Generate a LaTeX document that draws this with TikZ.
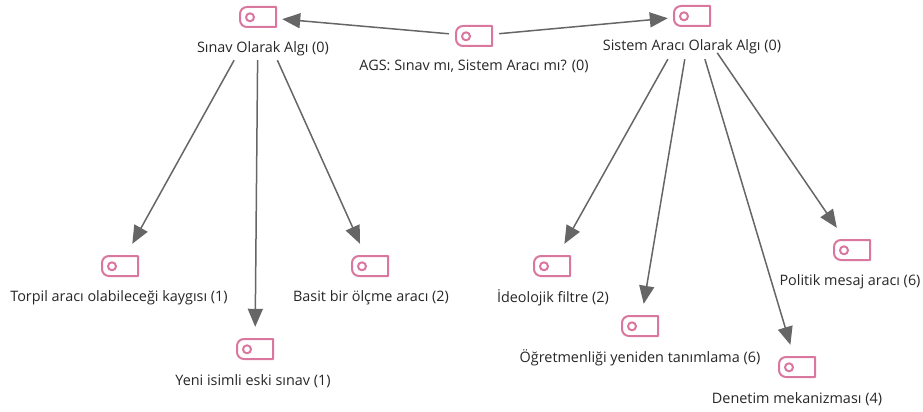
\documentclass[tikz,border=0pt]{standalone}
\usepackage{fontspec}
\setmainfont{Open Sans}
\usetikzlibrary{arrows.meta}
\definecolor{tagpink}{HTML}{D9779F}
\definecolor{arrowgray}{HTML}{666666}
\tikzset{
  x=1pt,y=-1pt,
  inbox/.style={inner sep=0pt,minimum width=48pt,minimum height=44pt},
  outbox/.style={inner sep=0pt,minimum width=50pt,minimum height=86pt},
  lbl/.style={inner sep=0pt,font=\fontsize{14.4}{17}\selectfont,text=black!85},
  link/.style={draw=arrowgray,line width=1.5pt,-{Triangle[length=18pt,width=15pt,fill=arrowgray]}},
  tagline/.style={draw=tagpink,line width=2pt,line join=round}
}
\newcommand{\tagicon}[3]{%
  \coordinate (#1) at (#2,#3);
  \draw[tagline] (#2+18,#3-10) [rounded corners=7pt] -- (#2-18,#3-10) -- (#2-18,#3+10)
    [sharp corners] -- (#2+18,#3+10) -- cycle;
  \draw[tagline] (#2-8,#3+0.3) circle[radius=4];
}
\begin{document}
\begin{tikzpicture}
\useasboundingbox (0,0) rectangle (923,412);
% icons
\tagicon{ic0}{474}{36}
\tagicon{ic1}{258}{17}
\tagicon{ic2}{692}{16}
\tagicon{ic3}{120}{266}
\tagicon{ic4}{255}{349}
\tagicon{ic5}{370}{266}
\tagicon{ic6}{552}{266}
\tagicon{ic7}{640}{326}
\tagicon{ic8}{797}{367}
\tagicon{ic9}{852}{250}
% connector end boxes
\node[outbox] (root) at (ic0) {};
\node[outbox] (sinavout) at (ic1) {};
\node[outbox] (sistemout) at (ic2) {};
\node[inbox] (sinav) at (ic1) {};
\node[inbox] (sistem) at (ic2) {};
\node[inbox] (torpil) at (ic3) {};
\node[inbox] (yeni) at (ic4) {};
\node[inbox] (basit) at (ic5) {};
\node[inbox] (ideo) at (ic6) {};
\node[inbox] (ogret) at (ic7) {};
\node[inbox] (denetim) at (ic8) {};
\node[inbox] (politik) at (ic9) {};
% labels
\node[lbl] (t0) at (474,66) {AGS: Sınav mı, Sistem Aracı mı? (0)};
\node[lbl] (t1) at (263,48.5) {Sınav Olarak Algı (0)};
\node[lbl] (t2) at (692,47) {Sistem Aracı Olarak Algı (0)};
\node[lbl] (t3) at (119,298) {Torpil aracı olabileceği kaygısı (1)};
\node[lbl] (t4) at (253,381) {Yeni isimli eski sınav (1)};
\node[lbl] (t5) at (371,298) {Basit bir ölçme aracı (2)};
\node[lbl] (t6) at (553,298) {İdeolojik filtre (2)};
\node[lbl] (t7) at (640,358) {Öğretmenliği yeniden tanımlama (6)};
\node[lbl] (t8) at (797,399) {Denetim mekanizması (4)};
\node[lbl] (t9) at (850,282) {Politik mesaj aracı (6)};
% connectors
\draw[link] (root) -- (sinav);
\draw[link] (root) -- (sistem);
\draw[link] (sinavout) -- (torpil);
\draw[link] (sinavout) -- (yeni);
\draw[link] (sinavout) -- (basit);
\draw[link] (sistemout) -- (ideo);
\draw[link] (sistemout) -- (ogret);
\draw[link] (sistemout) -- (denetim);
\draw[link] (sistemout) -- (politik);
\end{tikzpicture}
\end{document}
